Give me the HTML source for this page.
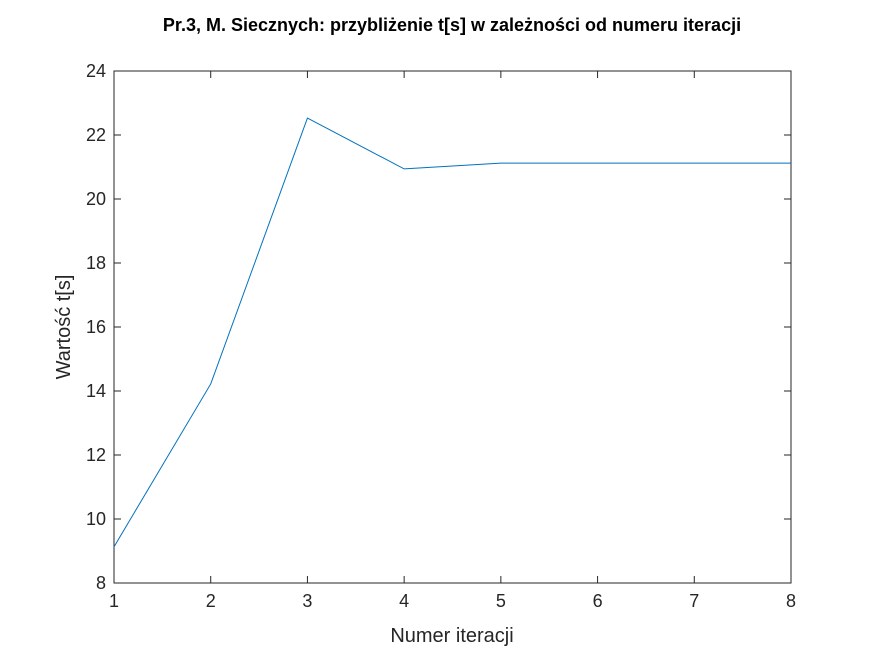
<!DOCTYPE html>
<html><head><meta charset="utf-8"><style>
body{margin:0;background:#fff;}
svg{display:block;font-family:"Liberation Sans",sans-serif;}
</style></head><body>
<svg id="chart" width="875" height="656"></svg>
<script>
const iterations=[1,2,3,4,5,6,7,8];
const values=[9.13,14.22,22.53,20.94,21.12,21.12,21.12,21.12];
const xTicks=[1,2,3,4,5,6,7,8];
const yTicks=[8,10,12,14,16,18,20,22,24];
const L=114,R=791,T=71,B=583;
const sx=v=>L+(v-1)*(R-L)/7;
const sy=v=>B-(v-8)*(B-T)/16;
const NS="http://www.w3.org/2000/svg";
const svg=document.getElementById('chart');
function mk(tag,attrs,parent){const e=document.createElementNS(NS,tag);for(const k in attrs)e.setAttribute(k,attrs[k]);(parent||svg).appendChild(e);return e;}
const frame=mk('rect',{x:L,y:T,width:R-L,height:B-T,fill:'#fff',stroke:'#262626','stroke-width':1});


xTicks.forEach(t=>{
  mk('line',{x1:sx(t),x2:sx(t),y1:B,y2:B-7,stroke:'#262626'});
  mk('line',{x1:sx(t),x2:sx(t),y1:T,y2:T+7,stroke:'#262626'});
  const tx=mk('text',{x:sx(t),y:B+24,'text-anchor':'middle','font-size':18,fill:'#262626'});
  tx.textContent=t;
  
  
});
yTicks.forEach(t=>{
  mk('line',{x1:L,x2:L+7,y1:sy(t),y2:sy(t),stroke:'#262626'});
  mk('line',{x1:R,x2:R-7,y1:sy(t),y2:sy(t),stroke:'#262626'});
  const tx=mk('text',{x:L-8,y:sy(t)+6,'text-anchor':'end','font-size':18,fill:'#262626'});
  tx.textContent=t;
  
  
});
const line=mk('polyline',{points:iterations.map((x,i)=>sx(x)+','+sy(values[i])).join(' '),fill:'none',stroke:'#0072bd','stroke-width':1});


const title=mk('text',{x:452,y:31,'text-anchor':'middle','font-size':18,'font-weight':'bold',fill:'#000'});
title.textContent='Pr.3, M. Siecznych: przybliżenie t[s] w zależności od numeru iteracji';


const xl=mk('text',{x:452,y:642,'text-anchor':'middle','font-size':20,fill:'#262626'});
xl.textContent='Numer iteracji';


const yl=mk('text',{x:0,y:0,'text-anchor':'middle','font-size':20,fill:'#262626',transform:'translate(70,327) rotate(-90)'});
yl.textContent='Wartość t[s]';


</script>
</body></html>
